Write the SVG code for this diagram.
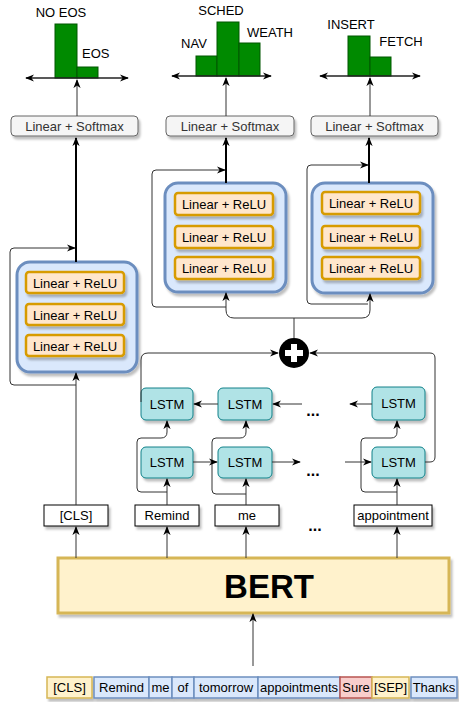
<svg xmlns="http://www.w3.org/2000/svg" width="459" height="702" viewBox="0 0 459 702">
<defs>
<marker id="arr" viewBox="0 0 10 10" refX="9" refY="5" markerWidth="9" markerHeight="9" orient="auto-start-reverse" markerUnits="userSpaceOnUse"><path d="M0,1 L10,5 L0,9 L3,5 z" fill="#000"/></marker>
<filter id="sh" x="-10%" y="-10%" width="130%" height="140%"><feDropShadow dx="2" dy="3" stdDeviation="1" flood-color="#000" flood-opacity="0.25"/></filter>
</defs>
<style>
text{font-family:"Liberation Sans",Arial,sans-serif;font-size:13px;fill:#000}
.c{text-anchor:middle}
.ln{fill:none;stroke:#333;stroke-width:1}
.thick{fill:none;stroke:#000;stroke-width:2}
.bar{fill:#008a00;stroke:#005700;stroke-width:1}
.axis{fill:none;stroke:#222;stroke-width:1.5}
.soft{fill:#f5f5f5;stroke:#666;stroke-width:1;filter:url(#sh)}
.mlp{fill:#dae8fc;stroke:#6c8ebf;stroke-width:3;filter:url(#sh)}
.relu{fill:#ffe6cc;stroke:#d79b00;stroke-width:2.5;filter:url(#sh)}
.lstm{fill:#b0e3e6;stroke:#0e8088;stroke-width:1;filter:url(#sh)}
.tok{fill:#fff;stroke:#000;stroke-width:1;filter:url(#sh)}
.y{fill:#fff2cc;stroke:#d6b656;stroke-width:1.5}
.b{fill:#dae8fc;stroke:#6c8ebf;stroke-width:1.5}
.r{fill:#f8cecc;stroke:#b85450;stroke-width:1.5}
.dots{font-size:16px;font-weight:bold}
</style>

<g id="hist-eos">
<rect class="bar" x="55" y="24" width="22" height="54"/>
<rect class="bar" x="77" y="67" width="21" height="11"/>
<path class="axis" d="M26,78 L128,78" marker-start="url(#arr)" marker-end="url(#arr)"/>
<text x="61" y="17" class="c">NO EOS</text>
<text x="82" y="58">EOS</text>
</g>
<g id="hist-intent">
<rect class="bar" x="196" y="56" width="21" height="20"/>
<rect class="bar" x="217" y="22" width="22" height="54"/>
<rect class="bar" x="239" y="43" width="21" height="33"/>
<path class="axis" d="M172,76 L271,76" marker-start="url(#arr)" marker-end="url(#arr)"/>
<text x="221" y="15" class="c">SCHED</text>
<text x="194" y="48" class="c">NAV</text>
<text x="270" y="37" class="c">WEATH</text>
</g>
<g id="hist-action">
<rect class="bar" x="348" y="36" width="22" height="40"/>
<rect class="bar" x="370" y="57" width="21" height="19"/>
<path class="axis" d="M320,76 L420,76" marker-start="url(#arr)" marker-end="url(#arr)"/>
<text x="351" y="29" class="c">INSERT</text>
<text x="401" y="46" class="c">FETCH</text>
</g>

<g id="softmax-1"><rect class="soft" x="11" y="116" width="127" height="20" rx="4"/><text x="74.5" y="130.5" class="c" style="fill:#333">Linear + Softmax</text></g>
<g id="softmax-2"><rect class="soft" x="166" y="116" width="128" height="20" rx="4"/><text x="230" y="130.5" class="c" style="fill:#333">Linear + Softmax</text></g>
<g id="softmax-3"><rect class="soft" x="311" y="116" width="127" height="20" rx="4"/><text x="374.5" y="130.5" class="c" style="fill:#333">Linear + Softmax</text></g>

<g id="mlp-1">
<rect class="mlp" x="17" y="262" width="120" height="110" rx="13"/>
<rect class="relu" x="26" y="272" width="98" height="21" rx="3"/><text x="75" y="287.5" class="c">Linear + ReLU</text>
<rect class="relu" x="26" y="304" width="98" height="21" rx="3"/><text x="75" y="319.5" class="c">Linear + ReLU</text>
<rect class="relu" x="26" y="335" width="98" height="21" rx="3"/><text x="75" y="350.5" class="c">Linear + ReLU</text>
</g>
<g id="mlp-2">
<rect class="mlp" x="165" y="183" width="121" height="109" rx="13"/>
<rect class="relu" x="175" y="193" width="98" height="22" rx="3"/><text x="224" y="208.5" class="c">Linear + ReLU</text>
<rect class="relu" x="175" y="226" width="98" height="22" rx="3"/><text x="224" y="241.5" class="c">Linear + ReLU</text>
<rect class="relu" x="175" y="257" width="98" height="22" rx="3"/><text x="224" y="272.5" class="c">Linear + ReLU</text>
</g>
<g id="mlp-3">
<rect class="mlp" x="312" y="183" width="121" height="110" rx="13"/>
<rect class="relu" x="322" y="192" width="98" height="22" rx="3"/><text x="371" y="207.5" class="c">Linear + ReLU</text>
<rect class="relu" x="322" y="226" width="98" height="22" rx="3"/><text x="371" y="241.5" class="c">Linear + ReLU</text>
<rect class="relu" x="322" y="257" width="98" height="22" rx="3"/><text x="371" y="272.5" class="c">Linear + ReLU</text>
</g>

<g id="plus">
<circle cx="294" cy="353" r="15" fill="#000"/>
<path d="M285,353 L303,353 M294,344 L294,362" stroke="#fff" stroke-width="6"/>
</g>

<g id="lstm-b1"><rect class="lstm" x="141" y="388" width="52" height="32" rx="5"/><text x="167" y="409" class="c">LSTM</text></g>
<g id="lstm-b2"><rect class="lstm" x="218" y="388" width="54" height="32" rx="5"/><text x="245" y="409" class="c">LSTM</text></g>
<g id="lstm-b3"><rect class="lstm" x="372" y="387" width="53" height="33" rx="5"/><text x="398.5" y="408" class="c">LSTM</text></g>
<g id="lstm-f1"><rect class="lstm" x="141" y="447" width="52" height="31" rx="5"/><text x="167" y="467" class="c">LSTM</text></g>
<g id="lstm-f2"><rect class="lstm" x="218" y="447" width="54" height="31" rx="5"/><text x="245" y="467" class="c">LSTM</text></g>
<g id="lstm-f3"><rect class="lstm" x="372" y="447" width="53" height="31" rx="5"/><text x="398.5" y="467" class="c">LSTM</text></g>

<g id="dots">
<text x="313" y="416" class="c dots">...</text>
<text x="313" y="476" class="c dots">...</text>
<text x="315" y="531" class="c dots">...</text>
</g>

<g id="tok-cls"><rect class="tok" x="44" y="505" width="64" height="21"/><text x="76" y="520" class="c">[CLS]</text></g>
<g id="tok-remind"><rect class="tok" x="135" y="505" width="64" height="21"/><text x="167" y="520" class="c">Remind</text></g>
<g id="tok-me"><rect class="tok" x="215" y="505" width="64" height="21"/><text x="247" y="520" class="c">me</text></g>
<g id="tok-appointment"><rect class="tok" x="354" y="505" width="78" height="21"/><text x="393" y="520" class="c">appointment</text></g>

<g id="bert">
<rect x="58" y="558" width="391" height="55" fill="#fff2cc" stroke="#d6b656" stroke-width="3" filter="url(#sh)"/>
<text x="269" y="598" class="c" style="font-size:33px;font-weight:bold">BERT</text>
</g>

<g id="input-tokens">
<g filter="url(#sh)">
<rect class="y" x="47" y="677" width="45" height="21"/>
<rect class="b" x="94" y="677" width="55" height="21"/>
<rect class="b" x="149" y="677" width="23" height="21"/>
<rect class="b" x="172" y="677" width="22" height="21"/>
<rect class="b" x="194" y="677" width="64" height="21"/>
<rect class="b" x="258" y="677" width="82" height="21"/>
<rect class="r" x="340" y="677" width="32" height="21"/>
<rect class="y" x="372" y="677" width="37" height="21"/>
<rect class="b" x="411" y="677" width="46" height="21"/>
</g>
<text x="69.5" y="692" class="c">[CLS]</text>
<text x="121.5" y="692" class="c">Remind</text>
<text x="160.5" y="692" class="c">me</text>
<text x="183" y="692" class="c">of</text>
<text x="226" y="692" class="c">tomorrow</text>
<text x="299" y="692" class="c">appointments</text>
<text x="356" y="692" class="c">Sure</text>
<text x="390.5" y="692" class="c">[SEP]</text>
<text x="434" y="692" class="c">Thanks</text>
</g>

<g id="connectors">
<path class="ln" d="M77,116 L77,80" marker-end="url(#arr)"/>
<path class="ln" d="M226,116 L226,78" marker-end="url(#arr)"/>
<path class="ln" d="M370,116 L370,78" marker-end="url(#arr)"/>
<path class="thick" d="M76,262 L76,138" marker-end="url(#arr)"/>
<path class="thick" d="M226,183 L226,138" marker-end="url(#arr)"/>
<path class="thick" d="M369,183 L369,138" marker-end="url(#arr)"/>
<path class="ln" d="M76,505 L76,373" marker-end="url(#arr)"/>
<path class="ln" d="M76,385 L14,385 Q10,385 10,381 L10,252 Q10,248 14,248 L75,248" marker-end="url(#arr)"/>
<path class="ln" d="M226,307 L156,307 Q152,307 152,303 L152,174 Q152,170 156,170 L225,170" marker-end="url(#arr)"/>
<path class="ln" d="M368,304 L311,304 Q307,304 307,300 L307,169 Q307,165 311,165 L368,165" marker-end="url(#arr)"/>
<path class="ln" d="M294,338 L294,318 L234,318 Q226,318 226,310 L226,293" marker-end="url(#arr)"/>
<path class="ln" d="M294,318 L362,318 Q370,318 370,310 L370,294" marker-end="url(#arr)"/>
<path class="ln" d="M141,402 L141,360 Q141,353 148,353 L278,353" marker-end="url(#arr)"/>
<path class="ln" d="M425,462 L430,462 Q435,462 435,457 L435,358 Q435,353 430,353 L310,353" marker-end="url(#arr)"/>
<path class="ln" d="M167,505 L167,479" marker-end="url(#arr)"/>
<path class="ln" d="M167,492 L141,492 Q137,492 137,488 L137,442 Q137,438 141,438 L161,438 Q167,438 167,432 L167,421" marker-end="url(#arr)"/>
<path class="ln" d="M246,505 L246,479" marker-end="url(#arr)"/>
<path class="ln" d="M246,494 L216,494 Q212,494 212,490 L212,442 Q212,438 216,438 L240,438 Q246,438 246,432 L246,421" marker-end="url(#arr)"/>
<path class="ln" d="M397,505 L397,479" marker-end="url(#arr)"/>
<path class="ln" d="M397,492 L365,492 Q361,492 361,488 L361,442 Q361,438 365,438 L391,438 Q397,438 397,432 L397,421" marker-end="url(#arr)"/>
<path class="ln" d="M193,462 L217,462" marker-end="url(#arr)"/>
<path class="ln" d="M272,462 L300,462" marker-end="url(#arr)"/>
<path class="ln" d="M345,462 L371,462" marker-end="url(#arr)"/>
<path class="ln" d="M218,404 L194,404" marker-end="url(#arr)"/>
<path class="ln" d="M302,404 L273,404" marker-end="url(#arr)"/>
<path class="ln" d="M372,404 L350,404" marker-end="url(#arr)"/>
<path class="ln" d="M76,558 L76,527" marker-end="url(#arr)"/>
<path class="ln" d="M167,558 L167,527" marker-end="url(#arr)"/>
<path class="ln" d="M246,558 L246,527" marker-end="url(#arr)"/>
<path class="ln" d="M397,558 L397,527" marker-end="url(#arr)"/>
<path class="ln" d="M253,666 L253,614" marker-end="url(#arr)"/>
</g>
</svg>
